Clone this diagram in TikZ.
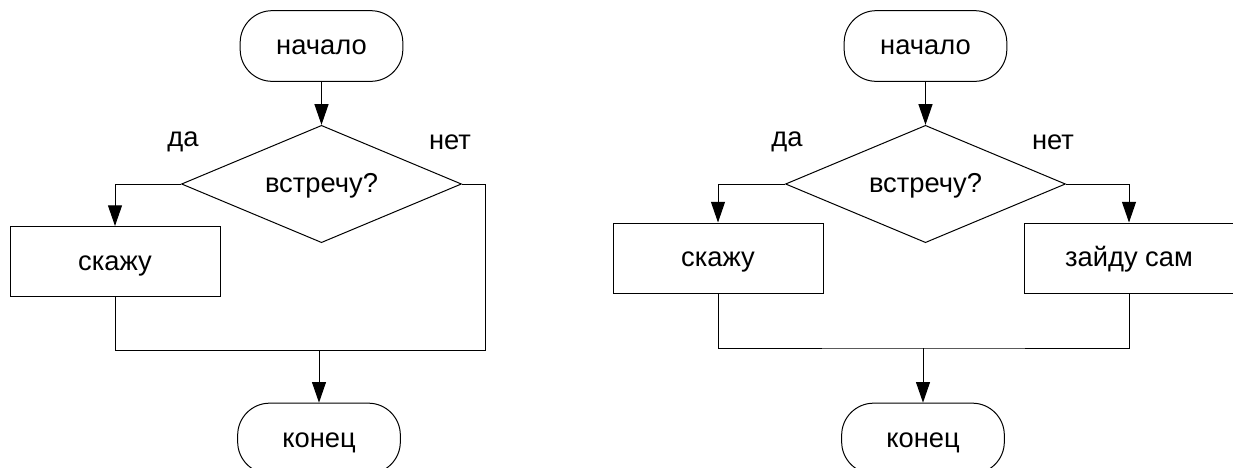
\documentclass[tikz,border=0pt]{standalone}
\usepackage{fontspec}
\setmainfont{Liberation Sans}
\usetikzlibrary{arrows.meta,shapes.geometric}

\tikzset{every picture/.style={line width=0.75pt}}
\tikzset{
	txt/.style={font=\fontsize{20.5}{24}\selectfont, text height=15pt, text depth=2pt},
	term/.style={draw, rectangle, rounded corners=24pt, minimum width=122pt, minimum height=53pt, txt},
	act/.style={draw, rectangle, minimum width=157.5pt, minimum height=52.5pt, txt},
	cond/.style={draw, diamond, aspect=2.4, inner sep=0pt, minimum width=210pt, minimum height=88pt, txt},
	lbl/.style={font=\fontsize{20.5}{24}\selectfont},
	arr/.style={-{Triangle[length=15.5pt,width=10.5pt]}}
}

\begin{document}
\begin{tikzpicture}[x=0.75pt,y=0.75pt,yscale=-1,xscale=1]
	\useasboundingbox (0,0) rectangle (1233,468);

	%Left chart: nodes
	\node [term] (startL) at (321.5,46) {начало};
	\node [cond] (condL) at (321.5,184) {встречу?};
	\node [act] (sayL) at (115,261.5) {скажу};
	\node [term] (endL) at (319,438.5) {конец};
	\coordinate (mergeL) at (319,350);
	\coordinate (cornerL) at (485.5,350);

	% Text Node
	\node [lbl] (yesL) at (183,142) {да};
	\node [lbl] (noL) at (450,142) {нет};

	%Left chart: connectors
	\draw [arr] (startL) -- (condL);
	\draw [arr] (condL.west) -| (sayL);
	\draw (sayL.south) |- (cornerL);
	\draw (condL.east) -| (cornerL);
	\draw [arr] (mergeL) -- (endL);

	%Right chart: nodes
	\node [term] (startR) at (925.5,46) {начало};
	\node [cond] (condR) at (925.5,184) {встречу?};
	\node [act] (sayR) at (718,258) {скажу};
	\node [act] (goR) at (1129,258) {зайду сам};
	\node [term] (endR) at (923,438.5) {конец};
	\coordinate (mergeR) at (923,348);

	% Text Node
	\node [lbl] (yesR) at (787,142) {да};
	\node [lbl] (noR) at (1053,142) {нет};

	%Right chart: connectors
	\draw [arr] (startR) -- (condR);
	\draw [arr] (condR.west) -| (sayR);
	\draw [arr] (condR.east) -| (goR);
	\draw (sayR.south) |- (mergeR) -| (goR.south);
	\draw [arr] (mergeR) -- (endR);

\end{tikzpicture}
\end{document}
